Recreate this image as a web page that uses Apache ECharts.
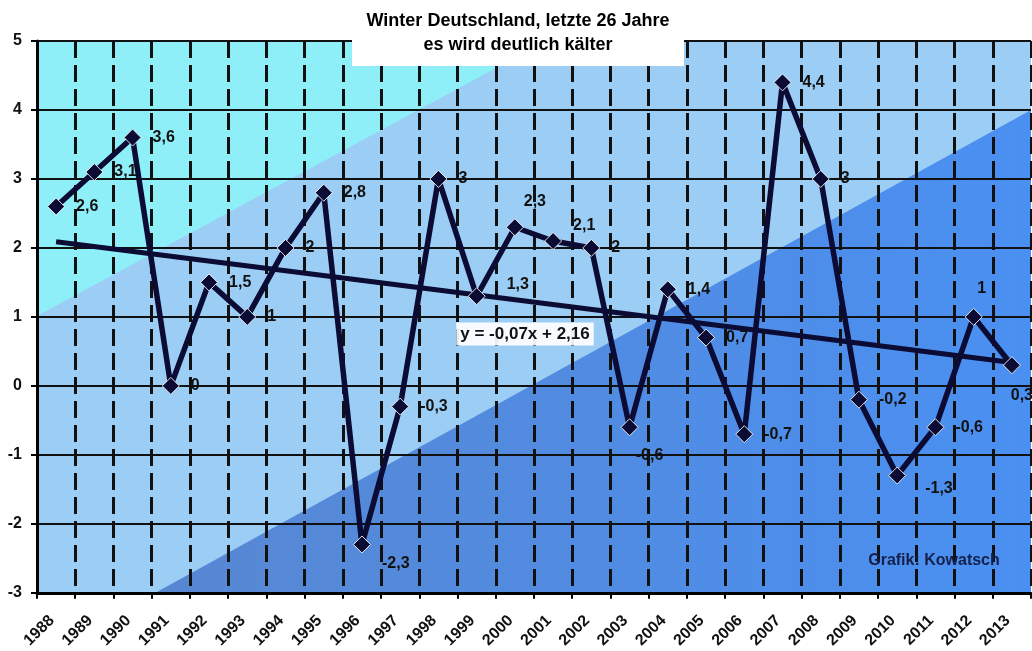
<!DOCTYPE html>
<html><head><meta charset="utf-8">
<script src="https://cdn.jsdelivr.net/npm/echarts@6/dist/echarts.min.js"></script>
<style>html,body{margin:0;padding:0;background:#fff}#c{width:1032px;height:651px}</style>
</head><body><div id="c"></div>
<script>
// ---- data ----
const years = ['1988','1989','1990','1991','1992','1993','1994','1995','1996','1997','1998','1999','2000','2001','2002','2003','2004','2005','2006','2007','2008','2009','2010','2011','2012','2013'];
const temps = [2.6,3.1,3.6,0,1.5,1,2,2.8,-2.3,-0.3,3,1.3,2.3,2.1,2,-0.6,1.4,0.7,-0.7,4.4,3,-0.2,-1.3,-0.6,1,0.3];
const yMin = -3, yMax = 5, yStep = 1;
const trendStart = 2.09, trendEnd = 0.34;   // y = -0,07x + 2,16 at x=1 and x=26
const titleLines = ['Winter Deutschland, letzte 26 Jahre', 'es wird deutlich kälter'];
const trendText = 'y = -0,07x + 2,16';
const creditText = 'Grafik: Kowatsch';

// ---- styling ----
const FONT = '"Liberation Sans", Arial, sans-serif';
const DARK = '#0b0b33';
const labelTweaks = {
  '1996': {offset:[0,19]},
  '1999': {offset:[10,-12]},
  '2000': {position:'top', offset:[20,2]},
  '2001': {offset:[0,-15]},
  '2003': {position:'bottom', offset:[20,0]},
  '2010': {offset:[8,13]},
  '2012': {position:'top', offset:[8,0]},
  '2013': {position:'bottom', offset:[10,2]}
};
const fmt = v => String(v).replace('.', ',');

const chart = echarts.init(document.getElementById('c'), null, {renderer:'canvas'});
const L = 37, T = 41, R = 1031, B = 593;

chart.setOption({
  animation: false,
  backgroundColor: '#fff',
  grid: {left: L, top: T, right: 1032 - R, bottom: 651 - B, containLabel: false},
  xAxis: {
    type: 'category', data: years, boundaryGap: true,
    axisLine: {onZero: false, lineStyle: {color: '#000', width: 3}},
    axisTick: {show: true, length: 6, interval: 0, lineStyle: {color: '#000', width: 2}},
    axisLabel: {interval: 0, rotate: 45, margin: 21, padding: [0, 6, 0, 0], color: '#111', fontWeight: 'bold', fontSize: 16, fontFamily: FONT},
    splitLine: {show: true, interval: 0, lineStyle: {color: '#111', width: 3, type: [17, 7]}}
  },
  yAxis: {
    type: 'value', min: yMin, max: yMax, interval: yStep,
    axisLine: {show: true, lineStyle: {color: '#000', width: 3}},
    axisTick: {show: true, length: 6, lineStyle: {color: '#000', width: 2}},
    axisLabel: {margin: 15, color: '#111', fontWeight: 'bold', fontSize: 16, fontFamily: FONT},
    splitLine: {show: true, lineStyle: {color: '#111', width: 2, type: 'solid'}}
  },
  series: [{
    type: 'line',
    data: temps.map((v, i) => Object.assign({value: v}, labelTweaks[years[i]] ? {label: labelTweaks[years[i]]} : {})),
    symbol: 'diamond', symbolSize: 17,
    lineStyle: {color: DARK, width: 5.5},
    itemStyle: {color: DARK, borderColor: 'rgba(255,255,255,0.85)', borderWidth: 1},
    label: {show: true, position: 'right', distance: 11, formatter: p => fmt(p.value),
            color: '#111', fontWeight: 'bold', fontSize: 16, fontFamily: FONT},
    markLine: {
      silent: true, symbol: 'none', z: 1,
      lineStyle: {color: DARK, width: 5, type: 'solid'},
      label: {show: false},
      data: [[{coord: [years[0], trendStart]}, {coord: [years[years.length - 1], trendEnd]}]]
    },
    z: 3
  }],
  graphic: [
    {type: 'rect', z: -5, silent: true, shape: {x: L, y: T, width: R - L, height: B - T}, style: {fill: '#9ccdf5'}},
    {type: 'polygon', z: -4, silent: true, shape: {points: [[L, T], [546, T], [L, 316]]}, style: {fill: '#8eeff9'}},
    {type: 'polygon', z: -4, silent: true, shape: {points: [[155, B], [R, 110], [R, B]]},
     style: {fill: {type: 'linear', x: 155, y: 0, x2: R, y2: 0, global: true,
       colorStops: [{offset: 0, color: '#5887d2'}, {offset: 1, color: '#4a90f2'}]}}},
    {type: 'rect', z: 100, silent: true, shape: {x: 352, y: 4, width: 332, height: 62}, style: {fill: '#fff'}},
    {type: 'text', z: 101, silent: true, x: 518, y: 21, style: {text: titleLines[0], align: 'center', verticalAlign: 'middle', font: 'bold 18px ' + FONT, fill: '#000'}},
    {type: 'text', z: 101, silent: true, x: 518, y: 45, style: {text: titleLines[1], align: 'center', verticalAlign: 'middle', font: 'bold 18px ' + FONT, fill: '#000'}},
    {type: 'text', z: 101, silent: true, x: 525, y: 334, style: {text: trendText, align: 'center', verticalAlign: 'middle', font: 'bold 17px ' + FONT, fill: '#111',
      backgroundColor: 'rgba(255,255,255,0.92)', padding: [3, 4]}},
    {type: 'text', z: 101, silent: true, x: 934, y: 561, style: {text: creditText, align: 'center', verticalAlign: 'middle', font: 'bold 16px ' + FONT, fill: '#14204a'}}
  ]
});
</script></body></html>
